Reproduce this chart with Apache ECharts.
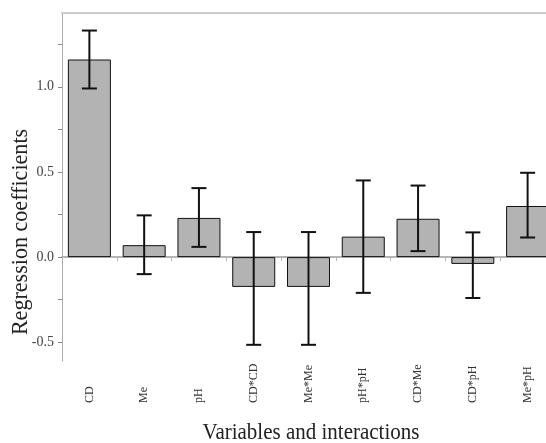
<!DOCTYPE html>
<html>
<head>
<meta charset="utf-8">
<script src="https://cdn.jsdelivr.net/npm/echarts@6/dist/echarts.min.js"></script>
<style>
html,body{margin:0;padding:0;background:#fff;}
#c{width:546px;height:443px;}
</style>
</head>
<body>
<div id="c"></div>
<script>
const categories = ['CD','Me','pH','CD*CD','Me*Me','pH*pH','CD*Me','CD*pH','Me*pH'];
const coefficients = [1.16, 0.07, 0.23, -0.175, -0.175, 0.12, 0.225, -0.04, 0.30];
const ciLow = [0.99, -0.10, 0.06, -0.515, -0.515, -0.21, 0.035, -0.24, 0.115];
const ciHigh = [1.33, 0.245, 0.405, 0.147, 0.147, 0.45, 0.42, 0.145, 0.495];
const yTickValues = [-0.5, -0.25, 0, 0.25, 0.5, 0.75, 1.0, 1.25];
const yLabelValues = [-0.5, 0, 0.5, 1.0];

const FONT = '"Liberation Serif", "DejaVu Serif", serif';
const chart = echarts.init(document.getElementById('c'), null, {renderer:'canvas'});

const option = {
  backgroundColor: '#ffffff',
  animation: false,
  grid: {left: 62, top: 13, right: -9, bottom: 82, containLabel: false, outerBoundsMode: 'none'},
  xAxis: [
    {
      type: 'category', data: categories, position: 'bottom',
      axisLine: {show: true, onZero: true, lineStyle: {color: '#b5b5b5', width: 2}},
      axisTick: {show: true, length: 4, lineStyle: {color: '#b5b5b5', width: 1}},
      axisLabel: {show: false}, splitLine: {show: false}
    },
    {
      type: 'category', data: categories, position: 'bottom',
      axisLine: {show: false, onZero: false}, axisTick: {show: false},
      axisLabel: {show: true, rotate: 90, align: 'left', verticalAlign: 'middle', margin: 42,
        fontFamily: FONT, fontSize: 12, color: '#333'},
      splitLine: {show: false}
    },
    {
      type: 'category', data: categories, position: 'top',
      axisLine: {show: true, onZero: false, lineStyle: {color: '#cccccc', width: 2}},
      axisTick: {show: false}, axisLabel: {show: false}, splitLine: {show: false}
    }
  ],
  yAxis: {
    type: 'value', min: -0.61, max: 1.433,
    axisLine: {show: true, lineStyle: {color: '#a8a8a8', width: 1}},
    axisTick: {show: true, length: 4, customValues: yTickValues, lineStyle: {color: '#888'}},
    axisLabel: {show: true, customValues: yLabelValues, margin: 8,
      formatter: v => v.toFixed(1), fontFamily: FONT, fontSize: 14, color: '#444'},
    splitLine: {show: false}
  },
  graphic: [
    {type: 'text', x: 21, y: 232, rotation: Math.PI/2, scaleX: 0.92,
      style: {text: 'Regression coefficients', fontFamily: FONT, fontSize: 24, fill: '#222',
        align: 'center', verticalAlign: 'middle'}},
    {type: 'text', x: 311, y: 433, scaleX: 0.875,
      style: {text: 'Variables and interactions', fontFamily: FONT, fontSize: 24, fill: '#222',
        align: 'center', verticalAlign: 'middle'}}
  ],
  series: [
    {
      type: 'bar', xAxisIndex: 0, data: coefficients, barWidth: 43,
      itemStyle: {color: '#b3b3b3', borderColor: '#111', borderWidth: 1}
    },
    {
      type: 'custom', xAxisIndex: 0,
      data: categories.map((c, i) => [i, ciLow[i], ciHigh[i]]),
      renderItem: function (params, api) {
        const lo = api.coord([api.value(0), api.value(1)]);
        const hi = api.coord([api.value(0), api.value(2)]);
        const hw = 7.5;
        const st = {stroke: '#111', lineWidth: 2};
        return {type: 'group', children: [
          {type: 'line', shape: {x1: lo[0], y1: lo[1], x2: hi[0], y2: hi[1]}, style: st},
          {type: 'line', shape: {x1: lo[0]-hw, y1: lo[1], x2: lo[0]+hw, y2: lo[1]}, style: st},
          {type: 'line', shape: {x1: hi[0]-hw, y1: hi[1], x2: hi[0]+hw, y2: hi[1]}, style: st}
        ]};
      },
      z: 5
    }
  ]
};
chart.setOption(option);
</script>
</body>
</html>
